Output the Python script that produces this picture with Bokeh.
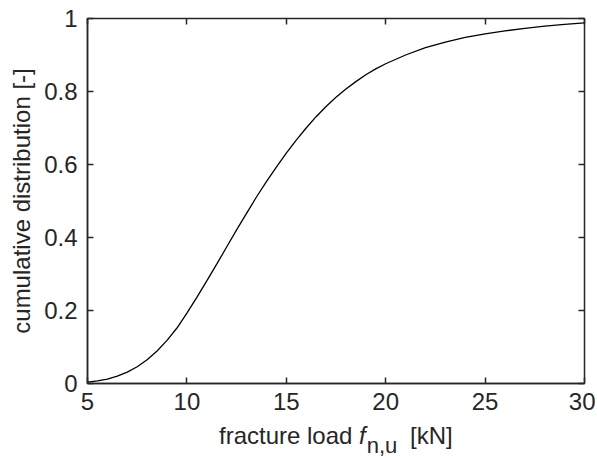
from bokeh.plotting import figure
from bokeh.models import LinearAxis, Range1d, FixedTicker, Div
from bokeh.layouts import column
from bokeh.embed import file_html
from bokeh.resources import INLINE

# Data (fracture load in kN, cumulative probability)
load_kN = [5.0, 5.5, 6.0, 6.5, 7.0, 7.5, 8.0, 8.5, 9.0, 9.5, 10.0, 10.5,
           11.0, 11.5, 12.0, 12.5, 13.0, 13.5, 14.0, 14.5, 15.0, 15.5,
           16.0, 16.5, 17.0, 17.5, 18.0, 18.5, 19.0, 19.5, 20.0, 21.0,
           22.0, 23.0, 24.0, 25.0, 26.0, 27.0, 28.0, 29.0, 30.0]
cum_dist = [0.004, 0.007, 0.012, 0.020, 0.031, 0.046, 0.065, 0.089, 0.118,
            0.152, 0.193, 0.236, 0.281, 0.327, 0.374, 0.421, 0.466, 0.511,
            0.553, 0.593, 0.631, 0.667, 0.700, 0.731, 0.759, 0.784, 0.807,
            0.827, 0.846, 0.862, 0.876, 0.900, 0.920, 0.935, 0.948, 0.958,
            0.966, 0.973, 0.979, 0.984, 0.988]

x_ticks = [5, 10, 15, 20, 25, 30]
y_ticks = [0, 0.2, 0.4, 0.6, 0.8, 1]
y_tick_labels = {0: "0", 0.2: "0.2", 0.4: "0.4", 0.6: "0.6", 0.8: "0.8", 1: "1"}

AX = "#262626"
FONT = "Liberation Sans"

FL, FT, FW, FH = 87, 18, 497, 365   # frame left/top/width/height in px
W, H = 595, 422

p = figure(width=W, height=H, output_backend="svg", toolbar_location=None,
           x_range=Range1d(5, 30), y_range=Range1d(0, 1),
           min_border_left=FL, min_border_right=W - FL - FW, min_border_top=FT,
           min_border_bottom=H - FT - FH)
p.background_fill_color = "white"
p.border_fill_color = "white"
p.grid.visible = False
p.outline_line_color = AX
p.outline_line_width = 1.5

p.line(load_kN, cum_dist, line_color="black", line_width=1.3)

for ax in (p.xaxis[0], p.yaxis[0]):
    ax.axis_line_color = AX
    ax.axis_line_width = 1.5
    ax.major_tick_line_color = AX
    ax.major_tick_line_width = 1.5
    ax.major_tick_in = 6
    ax.major_tick_out = 0
    ax.minor_tick_line_color = None
    ax.major_label_text_font = FONT
    ax.major_label_text_font_size = "24px"
    ax.major_label_text_color = AX

p.xaxis[0].ticker = FixedTicker(ticks=x_ticks)
p.yaxis[0].ticker = FixedTicker(ticks=y_ticks)
p.yaxis[0].major_label_overrides = y_tick_labels
p.xaxis[0].major_label_standoff = 9
p.yaxis[0].major_label_standoff = 10

p.yaxis[0].axis_label = "cumulative distribution [-]"
p.yaxis[0].axis_label_text_font = FONT
p.yaxis[0].axis_label_text_font_size = "24px"
p.yaxis[0].axis_label_text_font_style = "normal"
p.yaxis[0].axis_label_text_color = AX
p.yaxis[0].axis_label_standoff = 6

# mirrored ticks on top and right (no tick labels)
for side, tks in (("above", x_ticks), ("right", y_ticks)):
    a = LinearAxis(ticker=FixedTicker(ticks=tks), axis_line_color=None,
                   major_tick_in=6, major_tick_out=0, major_tick_line_color=AX,
                   major_tick_line_width=1.5, minor_tick_line_color=None,
                   major_label_overrides={t: "" for t in tks},
                   major_label_text_font_size="8px", major_label_standoff=0)
    p.add_layout(a, side)

# x-axis label with italic f and subscript n,u (real HTML text)
xlabel = Div(
    text=(f'<div style="padding-left:219px; font-family:\'{FONT}\'; '
          f'font-size:24px; line-height:28px; color:{AX}; white-space:nowrap;">'
          'fracture load <i>f</i>'
          '<span style="font-size:22px; position:relative; top:9px; '
          'margin-left:1px; margin-right:6px;">n,u</span> [kN]</div>'),
    width=W, height=33, margin=(0, 0, 0, 0))

layout = column(p, xlabel, spacing=0)

open("out.html", "w").write(file_html(layout, INLINE))
